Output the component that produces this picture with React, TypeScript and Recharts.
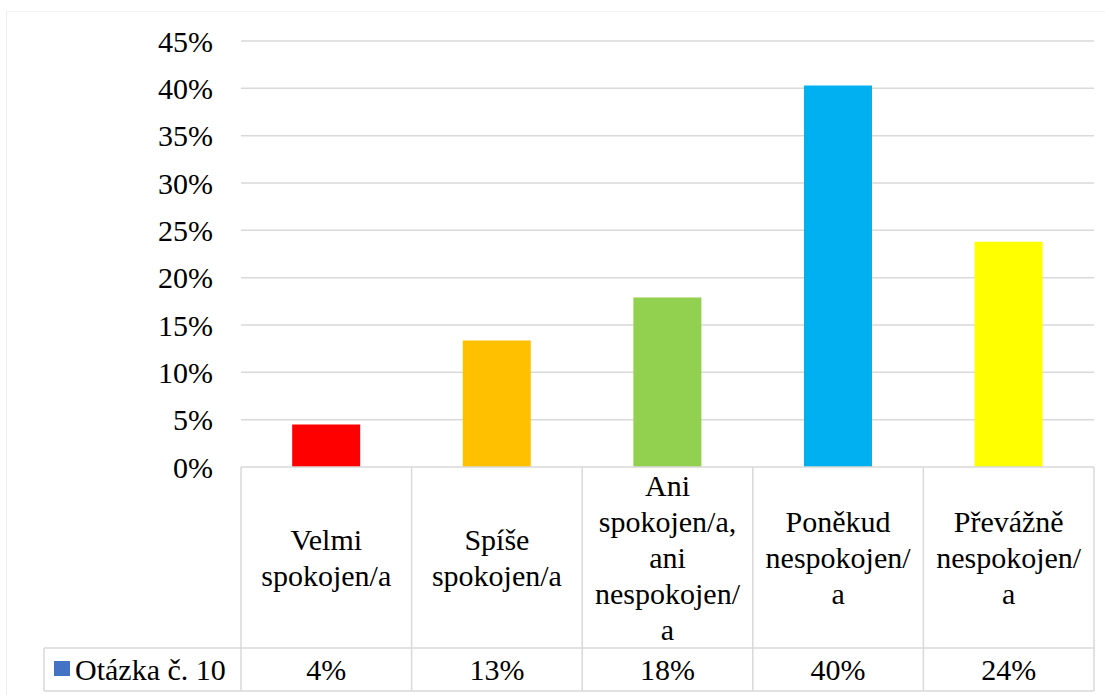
import { BarChart, Bar, XAxis, YAxis, CartesianGrid, Cell } from 'recharts'

const categories = [
  ['Velmi', 'spokojen/a'],
  ['Spíše', 'spokojen/a'],
  ['Ani', 'spokojen/a,', 'ani', 'nespokojen/', 'a'],
  ['Poněkud', 'nespokojen/', 'a'],
  ['Převážně', 'nespokojen/', 'a'],
]
const values = [0.045, 0.1335, 0.179, 0.403, 0.238]
const tableLabels = ['4%', '13%', '18%', '40%', '24%']
const colors = ['#FF0000', '#FFC000', '#92D050', '#00B0F0', '#FFFF00']
const yTicks = [0, 0.05, 0.1, 0.15, 0.2, 0.25, 0.3, 0.35, 0.4, 0.45]
const seriesName = 'Otázka č. 10'
const seriesColor = '#4472C4'

const W = 1105
const H = 695
const PLOT_LEFT = 241
const PLOT_RIGHT = 11
const TABLE_H = 224
const LABEL_ROW_H = 181
const LEGEND_LEFT = 44
const FONT = 'Liberation Serif'
const FS = 30
const LINE = '#d9d9d9'

const data = categories.map((c, i) => ({
  name: c.join(' '),
  value: values[i],
}))

const band = (W - PLOT_LEFT - PLOT_RIGHT) / categories.length
const txt = { fontFamily: FONT, fontSize: FS }

function TableTick(props: any) {
  const { x, y, index } = props
  const lines = categories[index]
  const left = x - band / 2
  const right = x + band / 2
  const rowY = y + LABEL_ROW_H
  const bottom = y + TABLE_H
  const lh = 36
  const mid = y + LABEL_ROW_H / 2
  const startY = mid - ((lines.length - 1) * lh) / 2
  const last = index === categories.length - 1
  return (
    <g>
      <line x1={left} y1={y} x2={left} y2={bottom} stroke={LINE} strokeWidth={1.5} />
      {last && <line x1={right} y1={y} x2={right} y2={bottom} stroke={LINE} strokeWidth={1.5} />}
      <line x1={left} y1={rowY} x2={right} y2={rowY} stroke={LINE} strokeWidth={1.5} />
      <line x1={left} y1={bottom} x2={right} y2={bottom} stroke={LINE} strokeWidth={1.5} />
      {lines.map((l, k) => (
        <text key={k} x={x} y={startY + k * lh} textAnchor="middle" dominantBaseline="central"
          style={txt} fill="#000">{l}</text>
      ))}
      <text x={x} y={rowY + (TABLE_H - LABEL_ROW_H) / 2} textAnchor="middle" dominantBaseline="central"
        style={txt} fill="#000">{tableLabels[index]}</text>
      {index === 0 && (
        <g>
          <line x1={LEGEND_LEFT} y1={rowY} x2={left} y2={rowY} stroke={LINE} strokeWidth={1.5} />
          <line x1={LEGEND_LEFT} y1={bottom} x2={left} y2={bottom} stroke={LINE} strokeWidth={1.5} />
          <line x1={LEGEND_LEFT} y1={rowY} x2={LEGEND_LEFT} y2={bottom} stroke={LINE} strokeWidth={1.5} />
          <rect x={LEGEND_LEFT + 10} y={rowY + 13} width={16} height={15} fill={seriesColor} />
          <text x={LEGEND_LEFT + 31} y={rowY + (TABLE_H - LABEL_ROW_H) / 2} dominantBaseline="central"
            style={txt} fill="#000">{seriesName}</text>
        </g>
      )}
    </g>
  )
}

export default function App() {
  return (
    <div style={{ position: 'absolute', left: 0, top: 0, width: W, height: H, background: '#fff', fontFamily: FONT }}>
      <div style={{ position: 'absolute', left: 6, top: 11, width: W, height: H, borderLeft: '1px solid #eeeeee', borderTop: '1px solid #f4f4f4' }} />
      <div style={{ position: 'absolute', left: 0, top: 0 }}>
        <BarChart width={W} height={H} data={data} style={{ fontFamily: FONT }}
          margin={{ top: 41, right: PLOT_RIGHT, left: 0, bottom: 0 }}
          barCategoryGap="30%">
          <CartesianGrid vertical={false} stroke={LINE} strokeWidth={1.5} horizontalValues={yTicks.slice(1)} />
          <YAxis width={PLOT_LEFT} domain={[0, 0.45]} ticks={yTicks} axisLine={false} tickLine={false}
            tickSize={6} tickMargin={22}
            tickFormatter={(v: number) => `${Math.round(v * 100)}%`}
            tick={{ style: txt, fontFamily: FONT, fontSize: FS, fill: '#000' }} />
          <XAxis dataKey="name" height={H - 467} interval={0} tickLine={false} tickSize={0} tickMargin={0}
            axisLine={{ stroke: LINE, strokeWidth: 1.5 }} tick={<TableTick />} />
          <Bar dataKey="value" isAnimationActive={false}>
            {data.map((_, i) => (
              <Cell key={i} fill={colors[i]} />
            ))}
          </Bar>
        </BarChart>
      </div>
    </div>
  )
}
